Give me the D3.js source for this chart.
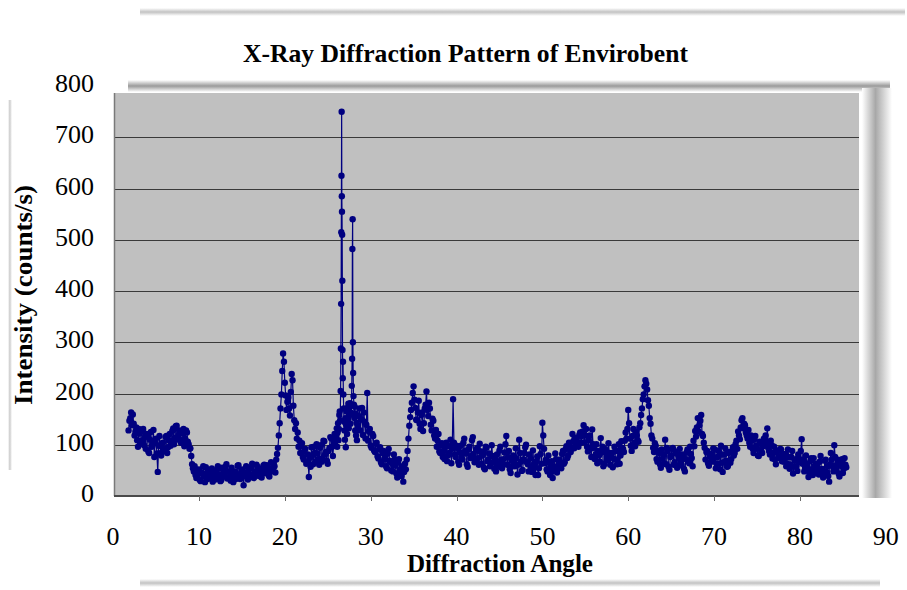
<!DOCTYPE html>
<html>
<head>
<meta charset="utf-8">
<script src="https://cdn.jsdelivr.net/npm/d3@7"></script>
<style>
  body { margin: 0; background: #fff; }
  text { font-family: "Liberation Serif", "Times New Roman", serif; fill: #000; }
</style>
</head>
<body>
<div id="chart"></div>
<script>
// tick labels
var xTicks = [0, 10, 20, 30, 40, 50, 60, 70, 80, 90];
var yTicks = [0, 100, 200, 300, 400, 500, 600, 700, 800];

// scan 1.8 - 25.9 deg, 0.1 deg step
var countsA = [
  128, 147, 152, 163, 138, 159, 141, 118, 126, 134, 109, 96, 131, 122, 104, 108, 127, 131, 99, 115,
  92, 121, 118, 87, 84, 110, 125, 96, 101, 129, 76, 104, 112, 83, 47, 98, 117, 98, 79, 86,
  104, 92, 88, 115, 117, 84, 95, 109, 121, 98, 108, 127, 132, 101, 114, 136, 137, 110, 119, 128,
  126, 104, 109, 122, 131, 97, 112, 128, 124, 106, 101, 92, 93, 78, 62, 54, 48, 58, 41, 35,
  37, 46, 52, 31, 29, 44, 45, 58, 38, 27, 56, 42, 33, 49, 47, 35, 41, 54, 28, 39,
  49, 32, 35, 51, 58, 40, 42, 29, 31, 55, 51, 38, 44, 57, 62, 34, 36, 48, 47, 30,
  55, 41, 27, 46, 48, 33, 39, 59, 60, 37, 33, 45, 52, 38, 21, 43, 45, 58, 38, 32,
  50, 36, 41, 55, 63, 39, 35, 47, 48, 61, 57, 42, 39, 53, 52, 36, 44, 59, 61, 45,
  47, 60, 55, 41, 38, 52, 66, 48, 50, 63, 58, 46, 71, 82, 94, 118, 142, 171, 198, 244,
  278, 262, 221, 196, 168, 184, 192, 171, 157, 203, 238, 226, 176, 148, 131, 142, 112, 124, 96, 108,
  84, 97, 103, 76, 71, 88, 92, 63, 65, 81, 37, 74, 57, 95, 79, 62, 96, 84, 68, 101,
  83, 72, 61, 94, 99, 67, 74, 108, 107, 81, 86, 69, 63, 88, 94, 115, 112, 96, 78, 104,
  121, 98
];

// finer steps across the two sharp reflections
var peakAngles = [
  26.00, 26.05, 26.10, 26.15, 26.20, 26.25, 26.30, 26.35, 26.40, 26.45,
  26.50, 26.53, 26.56, 26.58, 26.60, 26.62, 26.64, 26.66, 26.68, 26.70,
  26.72, 26.75, 26.78, 26.82, 26.86, 26.90, 26.95, 27.00, 27.05, 27.10,
  27.15, 27.20, 27.25, 27.30, 27.35, 27.40, 27.45, 27.50, 27.55, 27.60,
  27.65, 27.70, 27.75, 27.80, 27.84, 27.87, 27.90, 27.93, 27.96, 28.00,
  28.05, 28.10, 28.15, 28.20, 28.25, 28.30, 28.35, 28.40
];
var peakCounts = [
  118, 132, 96, 124, 142, 109, 131, 158, 165, 148,
  205, 288, 375, 515, 625, 750, 585, 555, 510, 420,
  285, 230, 262, 198, 171, 145, 128, 110, 152, 95,
  138, 165, 121, 172, 148, 180, 132, 176, 158, 181,
  141, 177, 162, 215, 268, 482, 540, 300, 240, 195,
  178, 152, 174, 128, 161, 118, 143, 109
];

// scan 28.5 - 49.9 deg, 0.1 deg step
var countsB = [
  138, 156, 171, 128, 149, 172, 119, 163, 145, 112, 139, 201, 108, 126, 131, 98, 94, 121, 117, 89,
  86, 102, 104, 77, 73, 91, 95, 66, 62, 84, 88, 71, 79, 58, 54, 83, 92, 69, 67, 50,
  63, 48, 81, 72, 59, 44, 36, 66, 72, 51, 44, 39, 58, 28, 47, 63, 52, 71, 88, 112,
  137, 154, 168, 182, 201, 214, 188, 172, 149, 148, 163, 186, 141, 131, 158, 163, 127, 142, 171, 178,
  204, 168, 156, 182, 171, 139, 128, 151, 147, 118, 112, 129, 96, 108, 121, 87, 84, 99, 103, 76,
  88, 72, 95, 104, 68, 79, 84, 97, 110, 64, 92, 189, 104, 81, 76, 98, 93, 67, 61, 85,
  98, 76, 71, 104, 112, 88, 83, 62, 57, 91, 96, 74, 78, 109, 115, 82, 66, 71, 89, 94,
  74, 61, 102, 87, 63, 79, 87, 55, 52, 96, 94, 68, 71, 83, 58, 64, 99, 78, 66, 53,
  72, 48, 81, 57, 63, 89, 96, 71, 54, 62, 72, 85, 101, 117, 61, 76, 88, 52, 45, 69,
  58, 79, 66, 58, 93, 74, 42, 61, 110, 84, 67, 49, 51, 72, 84, 95, 100, 66, 62, 48,
  81, 73, 56, 47, 89, 62, 56, 41, 68, 77, 41, 54, 97, 82, 63
];

// scan 50.0 - 85.4 deg, 0.1 deg step
var countsC = [
  143, 118, 92, 64, 71, 52, 48, 79, 66, 41, 58, 68, 35, 49, 57, 83, 72, 46, 54, 61,
  71, 58, 54, 82, 88, 63, 66, 91, 97, 74, 79, 104, 98, 86, 92, 121, 107, 93, 114, 102,
  112, 98, 96, 119, 124, 104, 117, 126, 138, 105, 118, 131, 96, 87, 109, 118, 92, 76, 130, 101,
  94, 72, 81, 101, 64, 88, 79, 67, 113, 85, 96, 58, 62, 92, 88, 77, 70, 103, 84, 61,
  78, 84, 56, 73, 96, 88, 71, 62, 88, 101, 63, 79, 107, 94, 92, 86, 108, 124, 112, 131,
  168, 142, 112, 98, 88, 117, 131, 104, 97, 126, 118, 109, 106, 134, 142, 158, 171, 189, 198, 214,
  226, 219, 208, 187, 176, 152, 141, 118, 112, 94, 86, 103, 98, 72, 67, 88, 84, 62, 55, 91,
  73, 81, 64, 110, 62, 94, 88, 57, 51, 76, 79, 92, 94, 61, 66, 87, 83, 55, 58, 74,
  92, 68, 61, 81, 77, 53, 48, 72, 85, 91, 69, 64, 96, 82, 74, 58, 108, 97, 127, 116,
  134, 152, 126, 138, 147, 158, 121, 117, 104, 94, 71, 86, 88, 64, 59, 78, 82, 71, 67, 93,
  74, 91, 54, 63, 76, 88, 63, 52, 98, 81, 47, 66, 81, 93, 69, 57, 58, 84, 86, 65,
  72, 88, 95, 79, 84, 101, 108, 92, 126, 118, 111, 134, 148, 152, 132, 141, 138, 124, 118, 112,
  129, 104, 96, 118, 108, 92, 84, 111, 117, 98, 92, 79, 78, 106, 103, 88, 84, 97, 112, 101,
  118, 104, 132, 94, 88, 81, 108, 99, 73, 84, 96, 71, 62, 87, 88, 76, 74, 92, 91, 68,
  82, 67, 74, 82, 58, 63, 91, 76, 53, 61, 76, 88, 44, 57, 69, 72, 58, 49, 81, 66,
  72, 88, 111, 63, 71, 48, 55, 79, 62, 55, 37, 46, 68, 74, 52, 41, 74, 58, 46, 63,
  61, 54, 42, 67, 78, 49, 53, 36, 44, 69, 71, 47, 58, 39, 28, 62, 84, 71, 58, 48,
  99, 76, 52, 61, 71, 44, 38, 59, 63, 72, 45, 53, 74, 61, 56
];

//turns a block of counts at a fixed step into {angle, count} points
function scan(start, step, values) {
  return values.map(function(v, i) {
    return {angle: +(start + i * step).toFixed(2), count: v};
  });
}

var points = scan(1.8, 0.1, countsA)
  .concat(peakAngles.map(function(a, i) { return {angle: a, count: peakCounts[i]}; }))
  .concat(scan(28.5, 0.1, countsB))
  .concat(scan(50.0, 0.1, countsC));

var width = 907, height = 590;
var plot = {left: 114, right: 859, top: 93, bottom: 496};

var svg = d3.select("#chart").append("svg")
    .attr("width", width)
    .attr("height", height);

var defs = svg.append("defs");
var gv = defs.append("linearGradient").attr("id", "shadeV").attr("x1", 0).attr("x2", 0).attr("y1", 0).attr("y2", 1);
gv.append("stop").attr("offset", "0%").attr("stop-color", "#fff");
gv.append("stop").attr("offset", "50%").attr("stop-color", "#9a9a9a");
gv.append("stop").attr("offset", "100%").attr("stop-color", "#fff");
var gh = defs.append("linearGradient").attr("id", "shadeH");
gh.append("stop").attr("offset", "0%").attr("stop-color", "#fff");
gh.append("stop").attr("offset", "45%").attr("stop-color", "#a8a8a8");
gh.append("stop").attr("offset", "100%").attr("stop-color", "#fff");

// frame shadows of the original scan
svg.append("rect").attr("x", 140).attr("y", 8).attr("width", 765).attr("height", 8).attr("fill", "url(#shadeV)").attr("opacity", 0.6);
svg.append("rect").attr("x", 128).attr("y", 80).attr("width", 762).attr("height", 12).attr("fill", "url(#shadeV)");
svg.append("rect").attr("x", 862).attr("y", 88).attr("width", 30).attr("height", 410).attr("fill", "url(#shadeH)");
svg.append("rect").attr("x", 140).attr("y", 579).attr("width", 740).attr("height", 8).attr("fill", "url(#shadeV)").attr("opacity", 0.6);
svg.append("rect").attr("x", 8).attr("y", 100).attr("width", 4).attr("height", 370).attr("fill", "url(#shadeH)").attr("opacity", 0.6);

var x = d3.scaleLinear()
    .domain([0, 90])
    .range([113.1, 885.8]);

var y = d3.scaleLinear()
    .domain([0, 800])
    .range([496, 86.1]);

svg.append("rect")
    .attr("x", plot.left)
    .attr("y", plot.top)
    .attr("width", plot.right - plot.left)
    .attr("height", plot.bottom - plot.top)
    .attr("fill", "#c0c0c0");

svg.append("g")
    .selectAll("line")
    .data(yTicks.filter(function(d) { return d > 0 && y(d) > plot.top; }))
    .enter().append("line")
      .attr("x1", plot.left)
      .attr("x2", plot.right)
      .attr("y1", function(d) { return Math.round(y(d)) + 0.5; })
      .attr("y2", function(d) { return Math.round(y(d)) + 0.5; })
      .attr("stroke", "#3a3a3a")
      .attr("stroke-width", 1);

// axis lines
svg.append("line")
    .attr("x1", plot.left + 0.5).attr("x2", plot.left + 0.5)
    .attr("y1", plot.top).attr("y2", plot.bottom)
    .attr("stroke", "#7a7a7a").attr("stroke-width", 1.5);
svg.append("line")
    .attr("x1", plot.left).attr("x2", plot.right)
    .attr("y1", plot.bottom).attr("y2", plot.bottom)
    .attr("stroke", "#4a4a4a").attr("stroke-width", 2);

svg.append("g")
    .selectAll("line")
    .data(xTicks.filter(function(d) { return d > 0 && x(d) < plot.right; }))
    .enter().append("line")
      .attr("x1", function(d) { return Math.round(x(d)) + 0.5; })
      .attr("x2", function(d) { return Math.round(x(d)) + 0.5; })
      .attr("y1", plot.bottom)
      .attr("y2", plot.bottom + 5)
      .attr("stroke", "#6a6a6a");

// tick labels
svg.append("g")
    .selectAll("text")
    .data(xTicks)
    .enter().append("text")
      .attr("x", function(d) { return x(d); })
      .attr("y", 545)
      .attr("text-anchor", "middle")
      .style("font-size", "26px")
      .text(function(d) { return d; });

svg.append("g")
    .selectAll("text")
    .data(yTicks)
    .enter().append("text")
      .attr("x", 94)
      .attr("y", function(d) { return y(d) + 6; })
      .attr("text-anchor", "end")
      .style("font-size", "26px")
      .text(function(d) { return d; });

// data
var line = d3.line()
    .x(function(d) { return x(d.angle); })
    .y(function(d) { return y(d.count); });

svg.append("path")
    .datum(points)
    .attr("d", line)
    .attr("fill", "none")
    .attr("stroke", "#000080")
    .attr("stroke-width", 1.2);

svg.append("g")
    .selectAll("circle")
    .data(points)
    .enter().append("circle")
      .attr("cx", function(d) { return x(d.angle); })
      .attr("cy", function(d) { return y(d.count); })
      .attr("r", 3.2)
      .attr("fill", "#000080");

// titles
svg.append("text")
    .attr("x", 243).attr("y", 62)
    .attr("textLength", 445).attr("lengthAdjust", "spacingAndGlyphs")
    .style("font-size", "25px").style("font-weight", "bold")
    .text("X-Ray Diffraction Pattern of Envirobent");

svg.append("text")
    .attr("x", 407).attr("y", 572)
    .attr("textLength", 186).attr("lengthAdjust", "spacingAndGlyphs")
    .style("font-size", "25px").style("font-weight", "bold")
    .text("Diffraction Angle");

svg.append("text")
    .attr("transform", "translate(32,405) rotate(-90)")
    .attr("textLength", 220).attr("lengthAdjust", "spacingAndGlyphs")
    .style("font-size", "25px").style("font-weight", "bold")
    .text("Intensity (counts/s)");
</script>
</body>
</html>
